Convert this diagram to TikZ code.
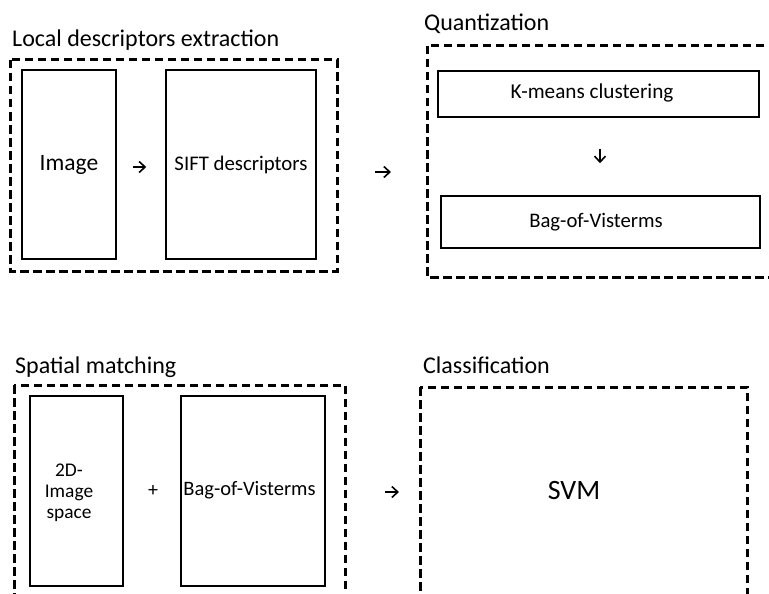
\documentclass[tikz,border=0pt]{standalone}
\usepackage{fontspec}
\setmainfont{Carlito}
\usetikzlibrary{arrows.meta}
\begin{document}
\begin{tikzpicture}[x=1pt,y=-1pt,
  group/.style={draw, line width=3pt, dash pattern=on 8.5pt off 4.5pt, inner sep=0pt},
  box/.style={draw, line width=1.5pt, inner sep=0pt, align=center},
  title/.style={anchor=base west, inner sep=0pt, font=\fontsize{24}{28}\selectfont},
  arr/.style={-{Straight Barb[length=6pt,width=11pt,line width=1.6pt]}, line width=1.6pt},
]
\useasboundingbox (0,0) rectangle (769,594);
\clip (0,0) rectangle (769,594);
% titles
\node[title] (t1) at (12,47) {Local descriptors extraction};
\node[title] (t2) at (424,31) {Quantization};
\node[title] (t3) at (15,373) {Spatial matching};
\node[title] (t4) at (423,373) {Classification};
% group boxes
\draw[group] (10,60) rectangle (337,271);
\coordinate (g1e) at (337,172);
\draw[group] (427,46) rectangle (800,277);
\coordinate (g2w) at (427,172);
\draw[group] (14,385) rectangle (345,640);
\coordinate (g3e) at (345,492);
\draw[group] (420,387) rectangle (747,640);
\coordinate (g4w) at (420,492);
% inner boxes
\node[box, minimum width=94pt, minimum height=189pt, font=\fontsize{23.5}{28}\selectfont] (img) at (69,164.5) {Image};
\node[box, minimum width=150pt, minimum height=189pt, font=\fontsize{20.8}{25}\selectfont] (sift) at (241,164.5) {SIFT descriptors};
\node[box, minimum width=321pt, minimum height=46pt] (km) at (598.5,94) {};
\node[font=\fontsize{21.2}{25}\selectfont] (kmt) at (592,93) {K-means clustering};
\node[box, minimum width=319pt, minimum height=52pt] (bq) at (600.5,222) {};
\node[font=\fontsize{20.7}{25}\selectfont] (bqt) at (596,222) {Bag-of-Visterms};
\node[box, minimum width=93pt, minimum height=190pt] (sp) at (76.5,491) {};
\node[font=\fontsize{19.4}{21}\selectfont, align=center] (spt) at (69,493) {2D-\\Image\\space};
\node[box, minimum width=144pt, minimum height=190pt] (bs) at (253,491) {};
\node[font=\fontsize{20.5}{24}\selectfont] (bst) at (249.5,490) {Bag-of-Visterms};
\node[font=\fontsize{28}{32}\selectfont] (svm) at (574,491) {SVM};
\node[font=\fontsize{20}{24}\selectfont] (plus) at (153,491) {+};
% arrows
\draw[arr, shorten <=16pt, shorten >=19pt] (img.east |- 0,167) -- (sift.west |- 0,167);
\draw[arr, shorten <=38pt, shorten >=36pt] (g1e) -- (g2w);
\draw[arr, shorten <=31pt, shorten >=32pt] (km.south -| 600,0) -- (bq.north -| 600,0);
\draw[arr, shorten <=40pt, shorten >=21pt] (g3e) -- (g4w);
\end{tikzpicture}
\end{document}
